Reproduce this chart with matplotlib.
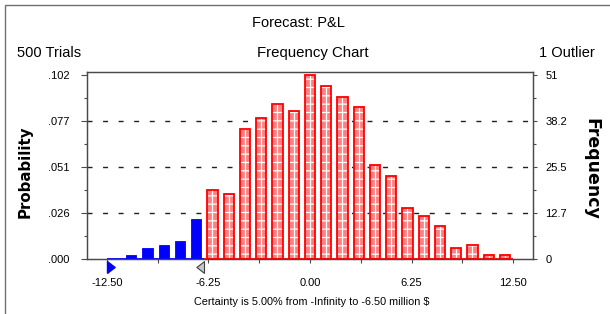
# coding: utf8

import numpy as np
import matplotlib.pyplot as plt
from matplotlib.patches import Rectangle
from matplotlib.path import Path

# =========================
# Données
# =========================
classes = [-11, -10, -9, -8, -7, -6, -5, -4, -3, -2, -1, 0,
           1, 2, 3, 4, 5, 6, 7, 8, 9, 10, 11, 12]
effectifs = [1, 3, 4, 5, 11, 19, 18, 36, 39, 43, 41, 51,
             48, 45, 42, 26, 23, 14, 12, 9, 3, 4, 1, 1]

essais = 500
certitude_bas = -12.5     # bord gauche affiché (-Infinity)
certitude_haut = -6.5
fin_axe = 12.5

ticks_x = [-12.5, -6.25, 0.0, 6.25, 12.5]
labels_x = ["-12.50", "-6.25", "0.00", "6.25", "12.50"]
ticks_y = [0, 12.75, 25.5, 38.25, 51]
labels_proba = [".000", ".026", ".051", ".077", ".102"]
labels_freq = ["0", "12.7", "25.5", "38.2", "51"]

titre = "Forecast: P&L"
sous_titre = "Frequency Chart"
texte_essais = "500 Trials"
texte_outlier = "1 Outlier"
texte_certitude = "Certainty is 5.00% from -Infinity to -6.50 million $"

# =========================
# Styles
# =========================
plt.rcParams["font.family"] = ["Liberation Sans", "DejaVu Sans"]
plt.rcParams["hatch.linewidth"] = 0.9
rouge = "#FF0000"
rose = "#FF8080"
bleu = "#0000FF"
gris_axe = "#4A4A4A"

fig = plt.figure(figsize=(6.1, 3.14), dpi=100)
ax = fig.add_axes([0.1426, 0.1752, 0.7311, 0.5955])
ax2 = ax.twinx()

x = np.array(classes)
y = np.array(effectifs)
dans_certitude = x < certitude_haut
largeur = 0.63

# lignes pointillées
for t in ticks_y[1:-1]:
    ax.axhline(t, color="#202020", lw=1.0, linestyle=(0, (3.6, 7.6)), zorder=1)

# barres bleues (zone de certitude)
ax.bar(x[dans_certitude], y[dans_certitude], width=largeur, color=bleu,
       edgecolor=bleu, linewidth=0.6, zorder=3)

# barres rouges : fond hachuré blanc + trait central + contour rouge
xr = x[~dans_certitude]
yr = y[~dans_certitude]
ax.bar(xr, yr, width=largeur, color=rose, edgecolor="white", hatch="--",
       linewidth=0, zorder=3)
ax.vlines(xr, 0, yr, color="white", lw=0.9, zorder=4)
ax.bar(xr, yr, width=largeur, fill=False, edgecolor=rouge, linewidth=1.3, zorder=5)

# ligne de base colorée
ax.plot([certitude_bas, certitude_haut], [0, 0], color=bleu, lw=1.3,
        zorder=6, clip_on=False, solid_capstyle="butt")
ax.plot([certitude_haut, fin_axe], [0, 0], color=rouge, lw=1.3,
        zorder=6, clip_on=False, solid_capstyle="butt")

# curseurs triangulaires sous l'axe
tri_droite = Path([(0, -1), (1.3, 0), (0, 1), (0, -1)])
tri_gauche = Path([(0, -1), (-1.3, 0), (0, 1), (0, -1)])
ax.plot([certitude_bas], [-2.2], marker=tri_droite, markersize=11,
        color=bleu, mec=bleu, clip_on=False, zorder=7, linestyle="none")
ax.plot([certitude_haut], [-2.2], marker=tri_gauche, markersize=11,
        color="#C8C8C8", mec="#404040", mew=0.8, clip_on=False, zorder=7,
        linestyle="none")

# =========================
# Axes
# =========================
ax.set_xlim(-13.72, 13.72)
ax.set_ylim(0, 51.8)
ax2.set_ylim(0, 51.8)

ax.set_xticks(ticks_x)
ax.set_xticklabels(labels_x)
ax.set_xticks([-9.375, -3.125, 3.125, 9.375], minor=True)
ax.tick_params(axis="x", which="both", direction="out", length=3,
               width=0.8, color=gris_axe, labelsize=8, pad=10.5)

ax.set_yticks(ticks_y)
ax.set_yticklabels(labels_proba)
ax.set_yticks([6.375, 19.125, 31.875, 44.625], minor=True)
ax.tick_params(axis="y", which="major", direction="out", length=4,
               width=0.8, color=gris_axe, labelsize=8, pad=8.5)
ax.tick_params(axis="y", which="minor", direction="out", length=2.2,
               width=0.8, color=gris_axe)

ax2.set_yticks(ticks_y)
ax2.set_yticklabels(labels_freq)
ax2.set_yticks([6.375, 19.125, 31.875, 44.625], minor=True)
ax2.tick_params(axis="y", which="major", direction="out", length=3,
                width=0.8, color=gris_axe, labelsize=8, pad=6)
ax2.tick_params(axis="y", which="minor", direction="out", length=2.2,
                width=0.8, color=gris_axe)

for a in (ax, ax2):
    for s in a.spines.values():
        s.set_color(gris_axe)
        s.set_linewidth(0.9)

# =========================
# Textes
# =========================
fig.text(0.490, 0.927, titre, ha="center", va="center", fontsize=10.5)
fig.text(0.513, 0.831, sous_titre, ha="center", va="center", fontsize=10.8)
fig.text(0.028, 0.831, texte_essais, ha="left", va="center", fontsize=10.5)
fig.text(0.975, 0.831, texte_outlier, ha="right", va="center", fontsize=10.5)
fig.text(0.511, 0.038, texte_certitude, ha="center", va="center", fontsize=7.8)
fig.text(0.041, 0.452, "Probability", rotation=90, ha="center", va="center",
         fontsize=10.8, fontweight="bold", family="DejaVu Sans")
fig.text(0.970, 0.462, "Frequency", rotation=270, ha="center", va="center",
         fontsize=12.5, fontweight="bold", family="DejaVu Sans")

# cadre extérieur
fig.add_artist(Rectangle((0.009, -0.05), 1.2, 1.034, transform=fig.transFigure,
                         fill=False, edgecolor="#707070", lw=1.0))

fig.savefig("out.png", dpi=100, facecolor="white")
